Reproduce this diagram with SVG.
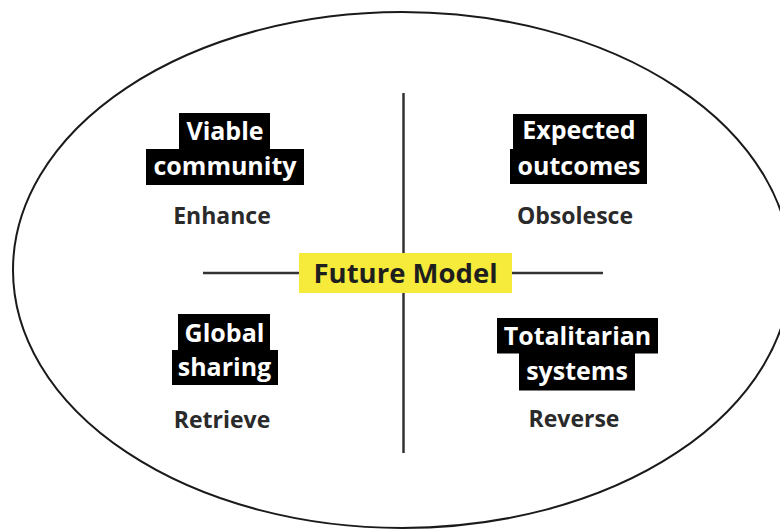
<svg xmlns="http://www.w3.org/2000/svg" width="780" height="529" viewBox="0 0 780 529">
  <style>
    .frame { fill: #ffffff; stroke: #1a1a1a; stroke-width: 2; }
    .axis { stroke: #333333; stroke-width: 2.5; fill: none; }
    .tag { fill: #000000; }
    .tag-text { font-family: "Open Sans", "DejaVu Sans", sans-serif; font-weight: 700; font-size: 25px; fill: #ffffff; text-anchor: middle; }
    .verb { font-family: "Open Sans", "DejaVu Sans", sans-serif; font-weight: 700; font-size: 23px; fill: #2a2a2a; text-anchor: middle; }
    .hub { fill: #f6ea3b; }
    .hub-text { font-family: "Open Sans", "DejaVu Sans", sans-serif; font-weight: 700; font-size: 27.5px; fill: #1e1e1e; text-anchor: middle; }
  </style>

  <rect x="0" y="0" width="780" height="529" fill="#ffffff"/>

  <!-- outer boundary -->
  <ellipse class="frame" cx="402" cy="270" rx="389" ry="258"/>

  <!-- axes -->
  <g id="connectors">
    <line class="axis" x1="403.5" y1="93" x2="403.5" y2="453"/>
    <line class="axis" x1="203" y1="273" x2="603" y2="273"/>
  </g>

  <!-- centre -->
  <g id="future-model">
    <rect class="hub" x="299" y="253" width="213" height="40"/>
    <text class="hub-text" x="405.5" y="283">Future Model</text>
  </g>

  <!-- top left -->
  <g id="enhance">
    <rect class="tag" x="179" y="113" width="91" height="36.5"/>
    <rect class="tag" x="146" y="149" width="158" height="36"/>
    <text class="tag-text" x="225" y="139.5">Viable</text>
    <text class="tag-text" x="225" y="174.5">community</text>
    <text class="verb" x="222" y="223.5">Enhance</text>
  </g>

  <!-- top right -->
  <g id="obsolesce">
    <rect class="tag" x="513" y="114" width="134" height="35.5"/>
    <rect class="tag" x="510" y="149" width="137" height="35"/>
    <text class="tag-text" x="579" y="139">Expected</text>
    <text class="tag-text" x="579" y="174.5">outcomes</text>
    <text class="verb" x="575" y="223.5">Obsolesce</text>
  </g>

  <!-- bottom left -->
  <g id="retrieve">
    <rect class="tag" x="178" y="314" width="92" height="36.5"/>
    <rect class="tag" x="172" y="350" width="106" height="35"/>
    <text class="tag-text" x="224.5" y="341.5">Global</text>
    <text class="tag-text" x="224.5" y="375.5">sharing</text>
    <text class="verb" x="222" y="427.5">Retrieve</text>
  </g>

  <!-- bottom right -->
  <g id="reverse">
    <rect class="tag" x="497" y="318" width="161" height="35.5"/>
    <rect class="tag" x="519" y="353" width="116" height="37.5"/>
    <text class="tag-text" x="577.5" y="344.5">Totalitarian</text>
    <text class="tag-text" x="577" y="380">systems</text>
    <text class="verb" x="574" y="426.5">Reverse</text>
  </g>
</svg>
